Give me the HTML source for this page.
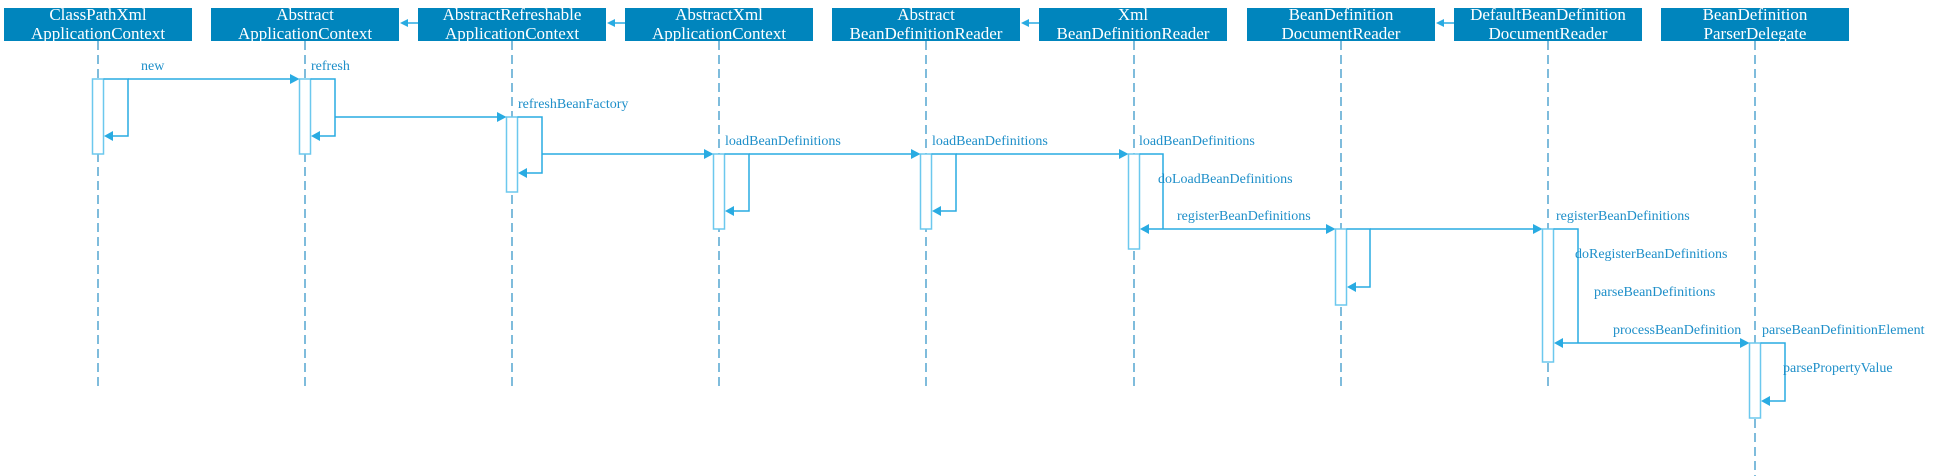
<!DOCTYPE html>
<html><head><meta charset="utf-8"><style>
html,body{margin:0;padding:0;background:#fff;}
svg{display:block;}
.h{font-family:"Liberation Serif",serif;font-size:17px;fill:#fff;text-anchor:middle;}
.l{font-family:"Liberation Serif",serif;font-size:14px;fill:#1e8fc9;}
.ll{stroke:#2a8fc4;stroke-width:1.2;stroke-dasharray:9,5;fill:none;}
.m{stroke:#29abe2;stroke-width:1.5;fill:none;}
.a{fill:#fff;stroke:#6cc8ee;stroke-width:1.5;}
.t{fill:#29abe2;}
</style></head><body>
<svg width="1934" height="476" viewBox="0 0 1934 476" xmlns="http://www.w3.org/2000/svg">
<g>
<rect x="4" y="8" width="188" height="33" fill="#0085bd"/>
<rect x="211" y="8" width="188" height="33" fill="#0085bd"/>
<rect x="418" y="8" width="188" height="33" fill="#0085bd"/>
<rect x="625" y="8" width="188" height="33" fill="#0085bd"/>
<rect x="832" y="8" width="188" height="33" fill="#0085bd"/>
<rect x="1039" y="8" width="188" height="33" fill="#0085bd"/>
<rect x="1247" y="8" width="188" height="33" fill="#0085bd"/>
<rect x="1454" y="8" width="188" height="33" fill="#0085bd"/>
<rect x="1661" y="8" width="188" height="33" fill="#0085bd"/>
<text class="h" x="98" y="20">ClassPathXml</text><text class="h" x="98" y="39">ApplicationContext</text>
<text class="h" x="305" y="20">Abstract</text><text class="h" x="305" y="39">ApplicationContext</text>
<text class="h" x="512" y="20">AbstractRefreshable</text><text class="h" x="512" y="39">ApplicationContext</text>
<text class="h" x="719" y="20">AbstractXml</text><text class="h" x="719" y="39">ApplicationContext</text>
<text class="h" x="926" y="20">Abstract</text><text class="h" x="926" y="39">BeanDefinitionReader</text>
<text class="h" x="1133" y="20">Xml</text><text class="h" x="1133" y="39">BeanDefinitionReader</text>
<text class="h" x="1341" y="20">BeanDefinition</text><text class="h" x="1341" y="39">DocumentReader</text>
<text class="h" x="1548" y="20">DefaultBeanDefinition</text><text class="h" x="1548" y="39">DocumentReader</text>
<text class="h" x="1755" y="20">BeanDefinition</text><text class="h" x="1755" y="39">ParserDelegate</text>
</g>
<g>
<line class="m" x1="406" y1="23" x2="418" y2="23"/><polygon class="t" points="400,23 408,19 408,27"/>
<line class="m" x1="613" y1="23" x2="625" y2="23"/><polygon class="t" points="607,23 615,19 615,27"/>
<line class="m" x1="1027" y1="23" x2="1039" y2="23"/><polygon class="t" points="1021,23 1029,19 1029,27"/>
<line class="m" x1="1442" y1="23" x2="1454" y2="23"/><polygon class="t" points="1436,23 1444,19 1444,27"/>
</g>
<g>
<line class="ll" x1="98" y1="41" x2="98" y2="390"/>
<line class="ll" x1="305" y1="41" x2="305" y2="390"/>
<line class="ll" x1="512" y1="41" x2="512" y2="390"/>
<line class="ll" x1="719" y1="41" x2="719" y2="390"/>
<line class="ll" x1="926" y1="41" x2="926" y2="390"/>
<line class="ll" x1="1134" y1="41" x2="1134" y2="390"/>
<line class="ll" x1="1341" y1="41" x2="1341" y2="390"/>
<line class="ll" x1="1548" y1="41" x2="1548" y2="390"/>
<line class="ll" x1="1755" y1="41" x2="1755" y2="476"/>
</g>
<g>
<rect class="a" x="92.5" y="79" width="11" height="75"/>
<rect class="a" x="299.5" y="79" width="11" height="75"/>
<rect class="a" x="506.5" y="117" width="11" height="75"/>
<rect class="a" x="713.5" y="154" width="11" height="75"/>
<rect class="a" x="920.5" y="154" width="11" height="75"/>
<rect class="a" x="1128.5" y="154" width="11" height="95"/>
<rect class="a" x="1335.5" y="229" width="11" height="76"/>
<rect class="a" x="1542.5" y="229" width="11" height="133"/>
<rect class="a" x="1749.5" y="343" width="11" height="75"/>
</g>
<g>
<path class="m" d="M103.5 79 H128 V136 H112"/><polygon class="t" points="104,136 113,131 113,141"/>
<line class="m" x1="128" y1="79" x2="292" y2="79"/><polygon class="t" points="299.5,79 290,74 290,84"/>
<path class="m" d="M310.5 79 H335 V136 H319"/><polygon class="t" points="311,136 320,131 320,141"/>
<line class="m" x1="335" y1="117" x2="499" y2="117"/><polygon class="t" points="506.5,117 497,112 497,122"/>
<path class="m" d="M517.5 117 H542 V173 H526"/><polygon class="t" points="518,173 527,168 527,178"/>
<line class="m" x1="542" y1="154" x2="706" y2="154"/><polygon class="t" points="713.5,154 704,149 704,159"/>
<path class="m" d="M724.5 154 H749 V211 H733"/><polygon class="t" points="725,211 734,206 734,216"/>
<line class="m" x1="749" y1="154" x2="913" y2="154"/><polygon class="t" points="920.5,154 911,149 911,159"/>
<path class="m" d="M931.5 154 H956 V211 H940"/><polygon class="t" points="932,211 941,206 941,216"/>
<line class="m" x1="956" y1="154" x2="1121" y2="154"/><polygon class="t" points="1128.5,154 1119,149 1119,159"/>
<path class="m" d="M1139.5 154 H1163 V229"/>
<line class="m" x1="1147" y1="229" x2="1328" y2="229"/>
<polygon class="t" points="1140,229 1149,224 1149,234"/>
<polygon class="t" points="1335.5,229 1326,224 1326,234"/>
<path class="m" d="M1346.5 229 H1370 V287 H1355"/><polygon class="t" points="1347,287 1356,282 1356,292"/>
<line class="m" x1="1370" y1="229" x2="1535" y2="229"/><polygon class="t" points="1542.5,229 1533,224 1533,234"/>
<path class="m" d="M1553.5 229 H1578 V343"/>
<line class="m" x1="1561" y1="343" x2="1742" y2="343"/>
<polygon class="t" points="1554,343 1563,338 1563,348"/>
<polygon class="t" points="1749.5,343 1740,338 1740,348"/>
<path class="m" d="M1760.5 343 H1785 V401 H1769"/><polygon class="t" points="1761,401 1770,396 1770,406"/>
</g>
<g>
<text class="l" x="141" y="70">new</text>
<text class="l" x="311" y="70">refresh</text>
<text class="l" x="518" y="108">refreshBeanFactory</text>
<text class="l" x="725" y="145">loadBeanDefinitions</text>
<text class="l" x="932" y="145">loadBeanDefinitions</text>
<text class="l" x="1139" y="145">loadBeanDefinitions</text>
<text class="l" x="1158" y="183">doLoadBeanDefinitions</text>
<text class="l" x="1177" y="220">registerBeanDefinitions</text>
<text class="l" x="1556" y="220">registerBeanDefinitions</text>
<text class="l" x="1575" y="258">doRegisterBeanDefinitions</text>
<text class="l" x="1594" y="296">parseBeanDefinitions</text>
<text class="l" x="1613" y="334">processBeanDefinition</text>
<text class="l" x="1762" y="334">parseBeanDefinitionElement</text>
<text class="l" x="1783" y="372">parsePropertyValue</text>
</g>
</svg>
</body></html>
